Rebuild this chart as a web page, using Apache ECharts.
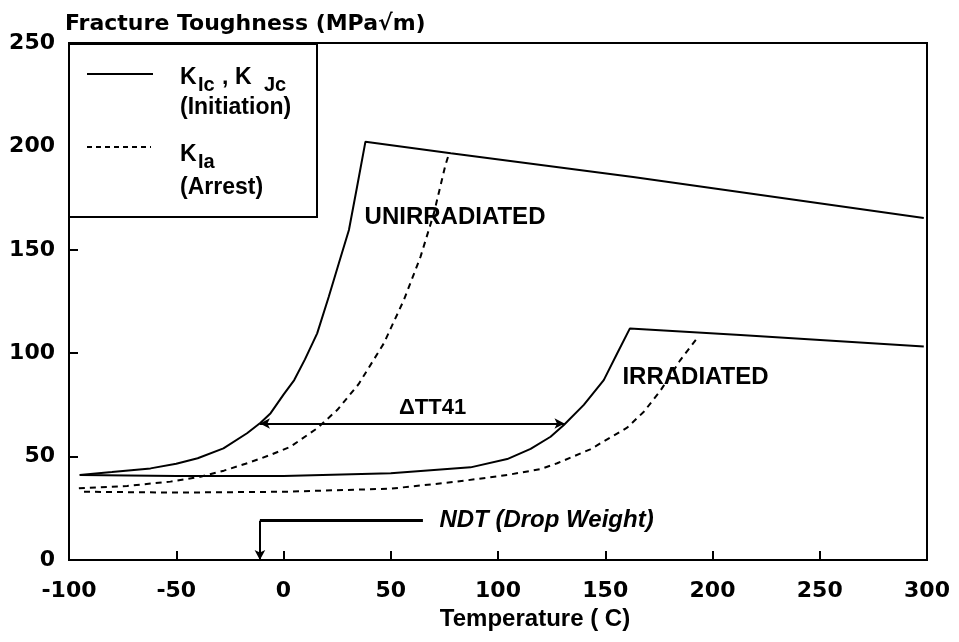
<!DOCTYPE html>
<html>
<head>
<meta charset="utf-8">
<title>Fracture Toughness vs Temperature</title>
<script src="https://cdn.jsdelivr.net/npm/echarts@6/dist/echarts.min.js"></script>
<style>
  html, body { margin: 0; padding: 0; background: #fff; }
  #chart { width: 959px; height: 642px; }
</style>
</head>
<body>
<div id="chart"></div>
<script>
// K_Ic, K_Jc initiation curves (solid), [temperature C, MPa sqrt(m)]
const unirrInitiation = [
  [-95, 41.1], [-80, 42.5], [-62, 44.3], [-50, 46.5], [-40, 49.2], [-28, 54],
  [-17, 61.3], [-10.7, 66.4], [-6, 71], [0, 80], [5, 87], [10, 97], [15.7, 109.6],
  [21.1, 127.3], [25.8, 143.5], [30.5, 159.6], [34.3, 180.5], [38.2, 202.3],
  [78, 196.7], [163, 185.2], [298.5, 165.4]
];
const irrInitiation = [
  [-95, 41.1], [-50, 40.6], [0, 40.6], [50, 41.9], [87.2, 44.8], [104.3, 48.8],
  [115.2, 53.7], [124.5, 59.6], [130.7, 65.3], [140, 75], [149.3, 87], [155.6, 100],
  [161.5, 112], [213, 108.8], [298.5, 103.2]
];
// K_Ia arrest curves (dashed)
const unirrArrest = [
  [-95.4, 34.7], [-72.9, 35.8], [-52.7, 37.9], [-38.7, 40.3], [-27.8, 43.2],
  [-16.9, 46.8], [-6.1, 50.8], [3.3, 54.8], [15.7, 63.7], [25, 72.5], [35, 85],
  [46.8, 104.8], [56.1, 125.7], [63.9, 146.7], [70.1, 167.6], [75.5, 191], [77, 196]
];
const irrArrest = [
  [-93, 33], [-50, 32.6], [0, 33], [50, 34.5], [81, 37.9], [104.3, 41.1], [120, 44],
  [127.6, 46.8], [143, 53.5], [160.2, 64], [168, 71.7], [175.8, 82], [185, 96.7],
  [192.8, 107.2]
];

// shift between the two initiation curves, and the NDT marker
const deltaTT41 = [[-11, 66], [131, 66]];
const ndtMarker = [[65, 19], [-11, 19], [-11, 0]];

// annotations placed in data coordinates
const noteText = ['UNIRRADIATED', 'IRRADIATED', '\u0394TT41', 'NDT (Drop Weight)'];
const noteX = [37.8, 158, 69.5, 72.7];
const noteY = [165.6, 88.5, 73.5, 19.3];

const chart = echarts.init(document.getElementById('chart'));

const solid = { color: '#000', width: 2, type: 'solid' };
const dashed = { color: '#000', width: 2, type: [6, 5] };

function lineSeries(name, data, style) {
  return {
    name: name,
    type: 'line',
    data: data,
    symbol: 'none',
    smooth: false,
    lineStyle: style,
    itemStyle: { color: '#000' },
    z: 3
  };
}

const noteData = noteText.map((t, i) => {
  const centered = i === 2;
  return {
    value: [noteX[i], noteY[i]],
    name: t,
    label: {
      show: true,
      formatter: t,
      position: centered ? 'inside' : 'right',
      distance: 0,
      color: '#000',
      opacity: 1,
      fontFamily: 'Liberation Sans',
      fontWeight: 'bold',
      fontSize: centered ? 22 : 24,
      fontStyle: i === 3 ? 'italic' : 'normal'
    }
  };
});

function txt(x, y, s, size) {
  return {
    type: 'text', left: x, top: y, z: 20,
    style: { text: s, fill: '#000', font: 'bold ' + size + 'px "Liberation Sans"' }
  };
}

let option = {
  animation: false,
  backgroundColor: '#fff',
  title: {
    text: 'Fracture Toughness (MPa\u221Am)',
    left: 60,
    top: 8,
    textStyle: { fontFamily: 'DejaVu Sans', fontSize: 22, fontWeight: 'bold', color: '#000' }
  },
  grid: {
    left: 69, right: 32, top: 43, bottom: 82,
    show: true, borderColor: '#000', borderWidth: 2
  },
  xAxis: {
    type: 'value',
    min: -100, max: 300, interval: 50,
    name: 'Temperature ( C)',
    nameLocation: 'middle',
    nameGap: 37,
    nameTextStyle: { fontFamily: 'Liberation Sans', fontWeight: 'bold', fontSize: 24, color: '#000', padding: [0, 0, 0, 74] },
    axisLine: { show: true, onZero: false, lineStyle: { color: '#000', width: 2 } },
    axisTick: { show: true, inside: true, length: 9, lineStyle: { color: '#000', width: 2 } },
    axisLabel: { fontFamily: 'DejaVu Sans', fontWeight: 'bold', fontSize: 22, color: '#000', margin: 20 },
    splitLine: { show: false }
  },
  yAxis: {
    type: 'value',
    min: 0, max: 250, interval: 50,
    axisLine: { show: true, onZero: false, lineStyle: { color: '#000', width: 2 } },
    axisTick: { show: true, inside: true, length: 9, lineStyle: { color: '#000', width: 2 } },
    axisLabel: { fontFamily: 'DejaVu Sans', fontWeight: 'bold', fontSize: 22, color: '#000', margin: 14 },
    splitLine: { show: false }
  },
  series: [
    lineSeries('K_Ic, K_Jc unirradiated', unirrInitiation, solid),
    lineSeries('K_Ia unirradiated', unirrArrest, dashed),
    lineSeries('K_Ic, K_Jc irradiated', irrInitiation, solid),
    lineSeries('K_Ia irradiated', irrArrest, dashed),
    {
      name: 'markers',
      type: 'line',
      data: [],
      markLine: {
        silent: true,
        animation: false,
        label: { show: false },
        lineStyle: { color: '#000', width: 2, type: 'solid' },
        symbolSize: [8, 10],
        data: [
          [
            { coord: deltaTT41[0], symbol: 'arrow' },
            { coord: deltaTT41[1], symbol: 'arrow' }
          ],
          [
            { coord: ndtMarker[0], symbol: 'none', lineStyle: { width: 3 } },
            { coord: ndtMarker[1], symbol: 'none' }
          ],
          [
            { coord: ndtMarker[1], symbol: 'none' },
            { coord: ndtMarker[2], symbol: 'arrow' }
          ]
        ]
      }
    },
    {
      name: 'notes',
      type: 'scatter',
      symbolSize: 0,
      itemStyle: { color: '#000', opacity: 1 },
      data: noteData,
      z: 5
    }
  ],
  graphic: [
    {
      type: 'rect', left: 68, top: 43, z: 19,
      shape: { width: 248, height: 173 },
      style: { fill: '#fff', stroke: '#000', lineWidth: 2 }
    },
    {
      type: 'line', z: 20,
      shape: { x1: 87, y1: 74, x2: 153, y2: 74 },
      style: { stroke: '#000', lineWidth: 2 }
    },
    {
      type: 'line', z: 20,
      shape: { x1: 87, y1: 147, x2: 151, y2: 147 },
      style: { stroke: '#000', lineWidth: 2, lineDash: [5, 4] }
    },
    txt(180, 66, 'K', 23),
    txt(198, 75, 'Ic', 20),
    txt(222, 66, ',', 23),
    txt(235, 66, 'K', 23),
    txt(264, 75, 'Jc', 20),
    txt(180, 96, '(Initiation)', 23),
    txt(180, 143, 'K', 23),
    txt(198, 152, 'Ia', 20),
    txt(180, 176, '(Arrest)', 23)
  ]
};

chart.setOption(option);
</script>
</body>
</html>
